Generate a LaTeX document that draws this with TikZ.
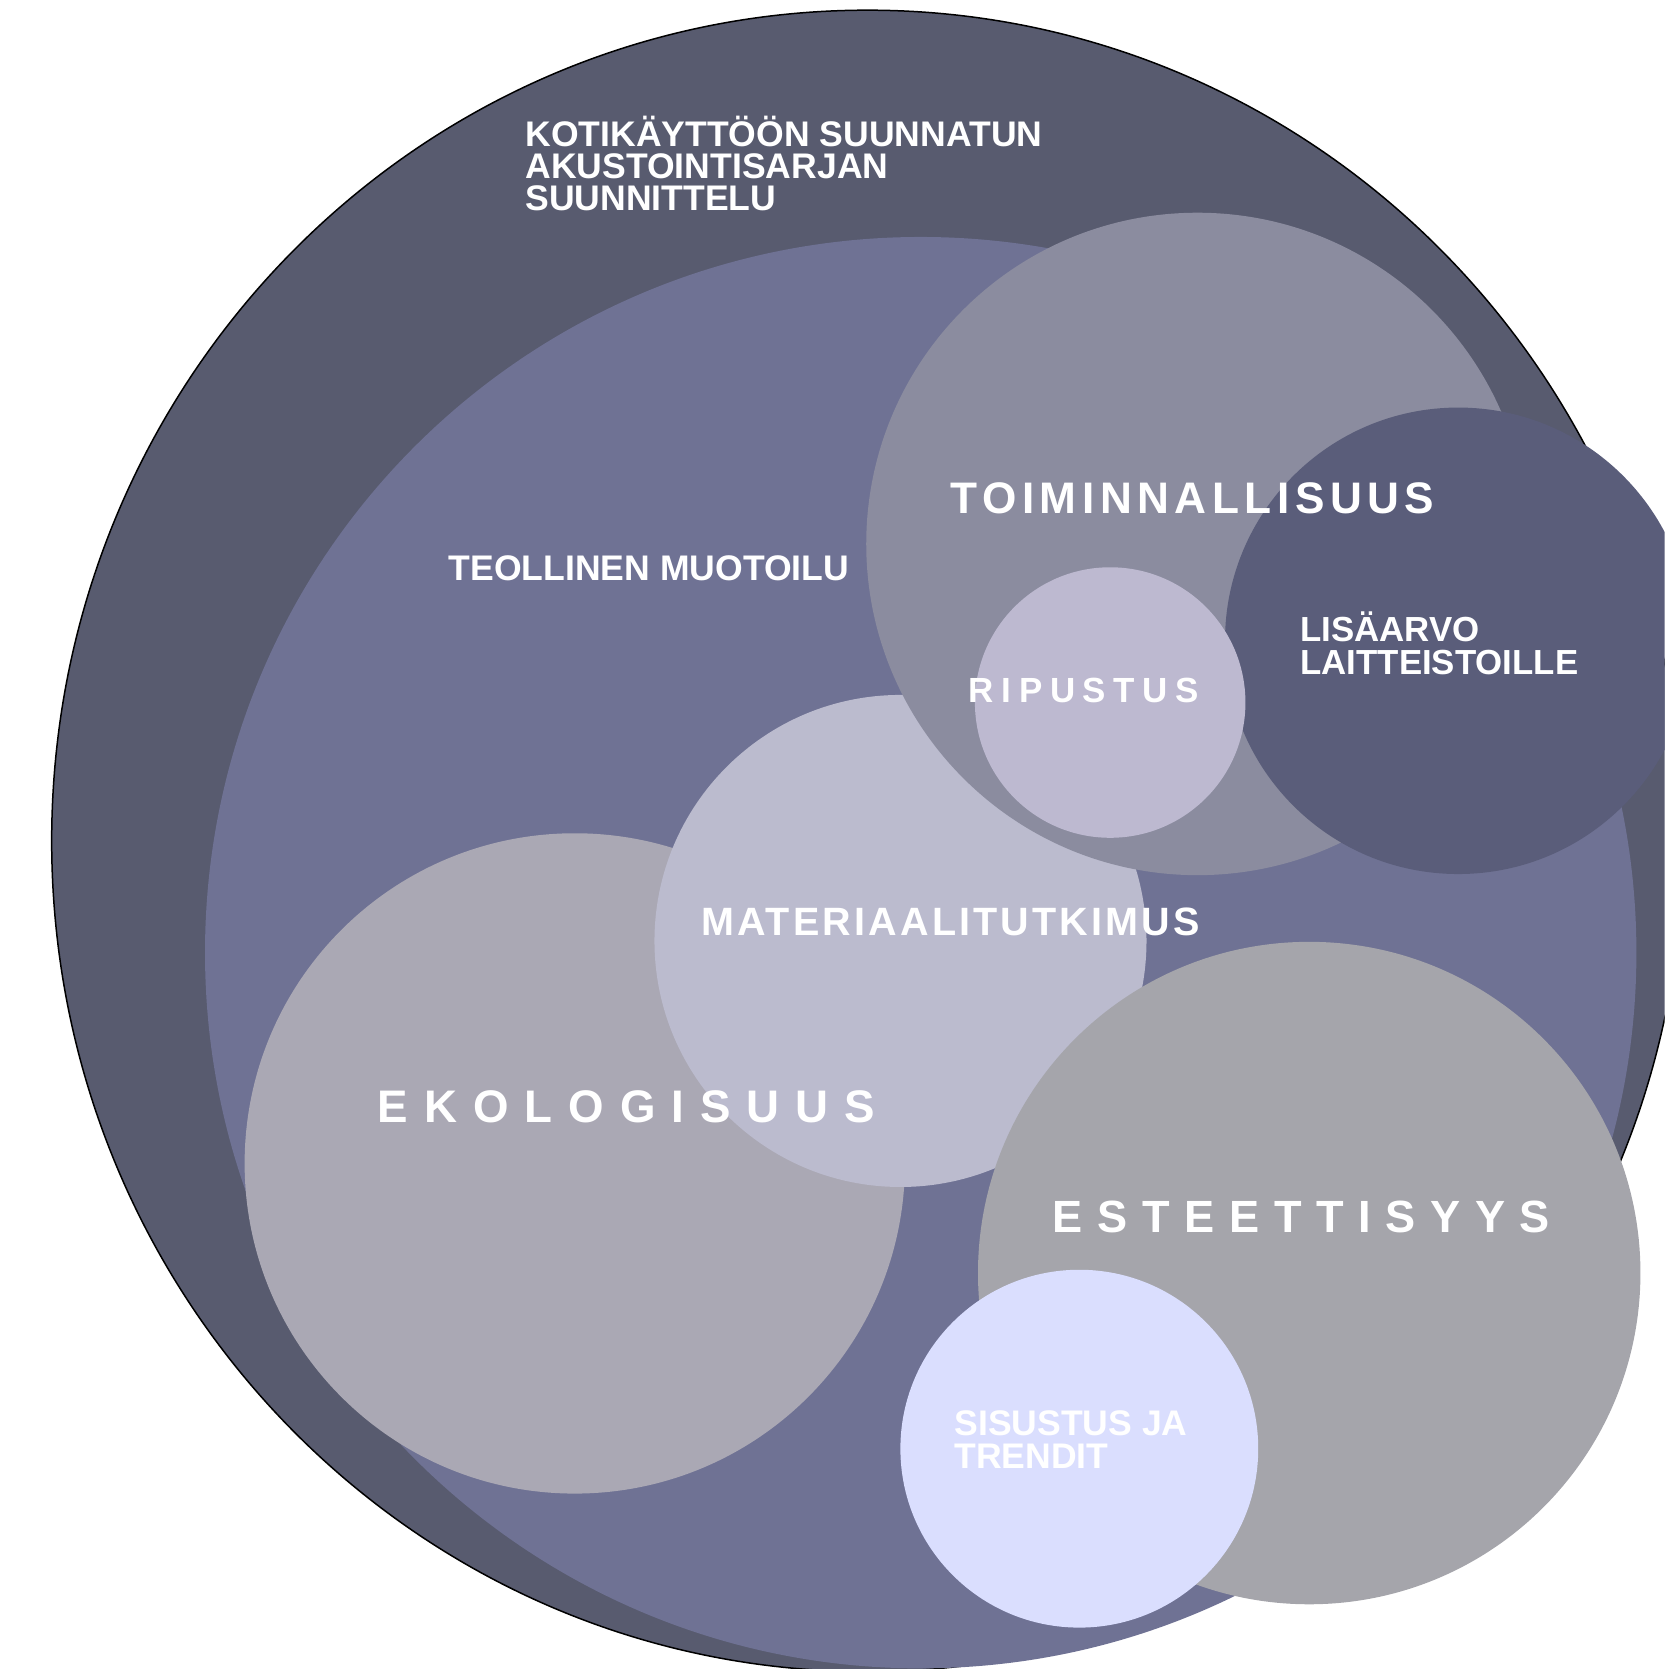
\documentclass[tikz,border=0pt]{standalone}
\usepackage{fontspec}
\setmainfont{Liberation Sans}
\definecolor{cOuter}{HTML}{585B6F}
\definecolor{cTeol}{HTML}{6F7294}
\definecolor{cToim}{HTML}{8B8C9F}
\definecolor{cLisa}{HTML}{5A5D7A}
\definecolor{cRip}{HTML}{BDB9D0}
\definecolor{cMat}{HTML}{BBBBCE}
\definecolor{cEko}{HTML}{AAA8B4}
\definecolor{cEst}{HTML}{A5A5AB}
\definecolor{cSis}{HTML}{DADEFE}
\tikzset{
  lbl/.style={text=white, inner sep=0pt, anchor=base west},
  fsBase/.style={font=\fontsize{9.5pt}{9.5pt}\selectfont\bfseries},
}
\begin{document}
\begin{tikzpicture}[x=0.01cm,y=-0.01cm]
\useasboundingbox (0,0) rectangle (1564,1568);
\begin{scope}
\clip (0,0) rectangle (1564,1568);
\fill[cOuter, draw=black, line width=0.4pt] (815,790) ellipse [x radius=7.66cm, y radius=7.80cm];
\fill[cTeol] (865,895) circle [radius=6.72cm];
\fill[cEko] (540,1093) circle [radius=3.10cm];
\fill[cMat] (846,884) circle [radius=2.31cm];
\fill[cToim] (1125,511) circle [radius=3.11cm];
\fill[cLisa] (1370,602) circle [radius=2.19cm];
\fill[cRip] (1043,660) circle [radius=1.27cm];
\fill[cEst] (1230,1196) circle [radius=3.11cm];
\fill[cSis] (1014,1361) circle [radius=1.68cm];
\end{scope}
% titles
\node[lbl, fsBase] (t1) at (493,138) {KOTIKÄYTTÖÖN SUUNNATUN};
\node[lbl, fsBase] (t2) at (493,168) {AKUSTOINTISARJAN};
\node[lbl, fsBase] (t3) at (493,198) {SUUNNITTELU};
\node[lbl, fsBase] (teol) at (421,545.8) {TEOLLINEN MUOTOILU};
\node[lbl, font=\fontsize{11.8pt}{11.8pt}\selectfont\bfseries\addfontfeature{LetterSpace=12.5}] (toim) at (892.4,482.2) {TOIMINNALLISUUS};
\node[lbl, font=\fontsize{9.33pt}{9.33pt}\selectfont\bfseries\addfontfeature{LetterSpace=22}] (rip) at (909.5,660) {RIPUSTUS};
\node[lbl, font=\fontsize{9.3pt}{9.3pt}\selectfont\bfseries] (lis1) at (1221,602.7) {LISÄARVO};
\node[lbl, font=\fontsize{9.3pt}{9.3pt}\selectfont\bfseries] (lis2) at (1221,634) {LAITTEISTOILLE};
\node[lbl, font=\fontsize{10.56pt}{10.56pt}\selectfont\bfseries\addfontfeature{LetterSpace=8}] (mat) at (658,879.2) {MATERIAALITUTKIMUS};
\node[lbl, font=\fontsize{12.2pt}{12.2pt}\selectfont\bfseries\addfontfeature{LetterSpace=35}] (eko) at (354.4,1054.6) {EKOLOGISUUS};
\node[lbl, font=\fontsize{12.06pt}{12.06pt}\selectfont\bfseries\addfontfeature{LetterSpace=32.4}] (est) at (988.5,1157.6) {ESTEETTISYYS};
\node[lbl, fsBase] (sis1) at (896,1348.9) {SISUSTUS JA};
\node[lbl, fsBase] (sis2) at (896,1380) {TRENDIT};
\end{tikzpicture}
\end{document}
